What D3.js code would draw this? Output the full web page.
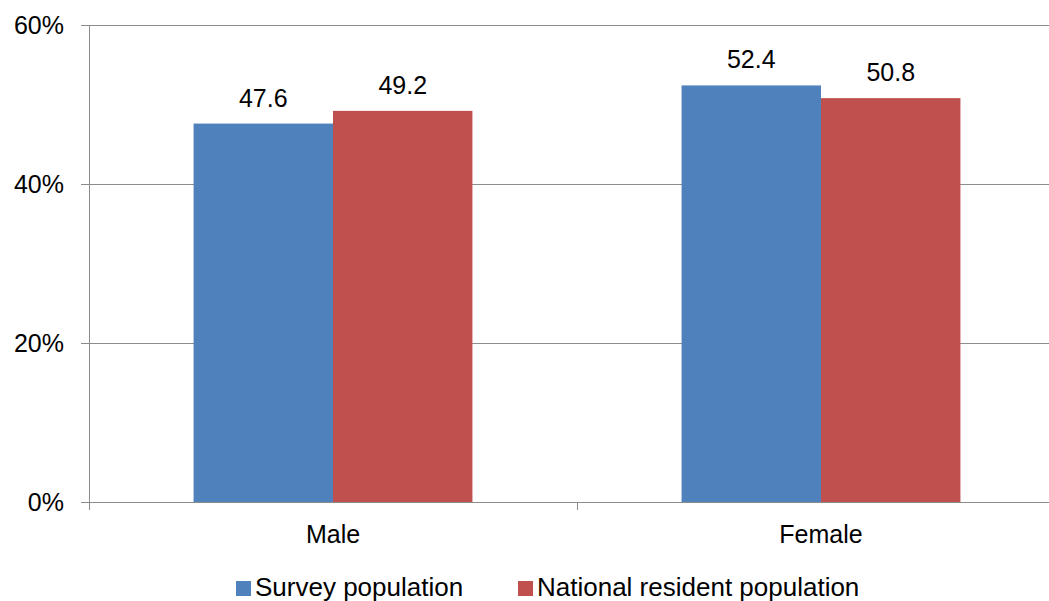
<!DOCTYPE html>
<html lang="en">
<head>
<meta charset="UTF-8">
<title>Survey vs national population by sex</title>
<script src="https://d3js.org/d3.v7.min.js"></script>
<style>
    body { margin: 0; background: #fff; }
    text { font-family: "Liberation Sans", Arial, sans-serif; fill: #000; }
    .grid-line { stroke: #8c8c8c; stroke-width: 1px; }
    .axis-line { stroke: #8c8c8c; stroke-width: 1px; }
</style>
</head>
<body>
<div id="container"></div>
<script>
// chart data
var categories = ["Male", "Female"];
var seriesNames = ["Survey population", "National resident population"];
var surveyValues = [47.6, 52.4];
var nationalValues = [49.2, 50.8];
var yTicks = [0, 20, 40, 60];
var colors = ["#4F81BD", "#C0504D"];

function drawChart() {
    var width = 1049, height = 601;
    var plotLeft = 89, plotRight = 1065, plotTop = 25, plotBottom = 502;

    var svg = d3.select("#container").append("svg")
        .attr("width", width)
        .attr("height", height);

    var x = d3.scaleBand().domain(categories).range([plotLeft, plotRight]);
    var inner = d3.scaleBand().domain(seriesNames)
        .range([0, x.bandwidth()])
        .paddingOuter(0.75);
    var y = d3.scaleLinear().domain([0, 60]).range([plotBottom, plotTop]);

    // gridlines
    svg.append("g").selectAll("line")
        .data(yTicks)
        .enter().append("line")
        .attr("class", "grid-line")
        .attr("x1", plotLeft - 8)
        .attr("x2", plotRight)
        .attr("y1", function (d) { return Math.round(y(d)) + 0.5; })
        .attr("y2", function (d) { return Math.round(y(d)) + 0.5; });

    // y labels
    svg.append("g").selectAll("text")
        .data(yTicks)
        .enter().append("text")
        .attr("x", 64)
        .attr("y", function (d) { return y(d); })
        .attr("dy", "0.35em")
        .attr("text-anchor", "end")
        .style("font-size", "25px")
        .text(function (d) { return d + "%"; });

    // bars
    var rows = categories.map(function (c, i) {
        return { cat: c, values: [surveyValues[i], nationalValues[i]] };
    });

    var groups = svg.append("g").selectAll("g")
        .data(rows)
        .enter().append("g")
        .attr("transform", function (d) { return "translate(" + x(d.cat) + ",0)"; });

    var bars = groups.selectAll("g")
        .data(function (d) {
            return d.values.map(function (v, j) { return { name: seriesNames[j], v: v, j: j }; });
        })
        .enter().append("g");

    bars.append("rect")
        .attr("x", function (d) { return inner(d.name); })
        .attr("width", inner.bandwidth())
        .attr("y", function (d) { return y(d.v); })
        .attr("height", function (d) { return plotBottom - y(d.v); })
        .attr("fill", function (d) { return colors[d.j]; });

    bars.append("text")
        .attr("x", function (d) { return inner(d.name) + inner.bandwidth() / 2; })
        .attr("y", function (d) { return y(d.v) - 17; })
        .attr("text-anchor", "middle")
        .style("font-size", "25px")
        .text(function (d) { return d.v.toFixed(1); });

    // axes
    svg.append("line").attr("class", "axis-line")
        .attr("x1", plotLeft + 0.5).attr("x2", plotLeft + 0.5)
        .attr("y1", plotTop).attr("y2", plotBottom + 8);

    svg.append("g").selectAll("line")
        .data(categories.concat(["end"]))
        .enter().append("line")
        .attr("class", "axis-line")
        .attr("x1", function (d, i) { return plotLeft + i * x.bandwidth() + 0.5; })
        .attr("x2", function (d, i) { return plotLeft + i * x.bandwidth() + 0.5; })
        .attr("y1", plotBottom)
        .attr("y2", plotBottom + 8);

    svg.append("g").selectAll("text")
        .data(categories)
        .enter().append("text")
        .attr("x", function (d) { return x(d) + x.bandwidth() / 2; })
        .attr("y", 543)
        .attr("text-anchor", "middle")
        .style("font-size", "25px")
        .text(function (d) { return d; });

    // legend
    var legendX = [236, 518];
    var legend = svg.append("g").selectAll("g")
        .data(seriesNames)
        .enter().append("g")
        .attr("transform", function (d, i) { return "translate(" + legendX[i] + ",581)"; });

    legend.append("rect")
        .attr("width", 15)
        .attr("height", 15)
        .attr("fill", function (d, i) { return colors[i]; });

    legend.append("text")
        .attr("x", 19)
        .attr("y", 15)
        .style("font-size", "26px")
        .text(function (d) { return d; });
}

drawChart();
</script>
</body>
</html>
